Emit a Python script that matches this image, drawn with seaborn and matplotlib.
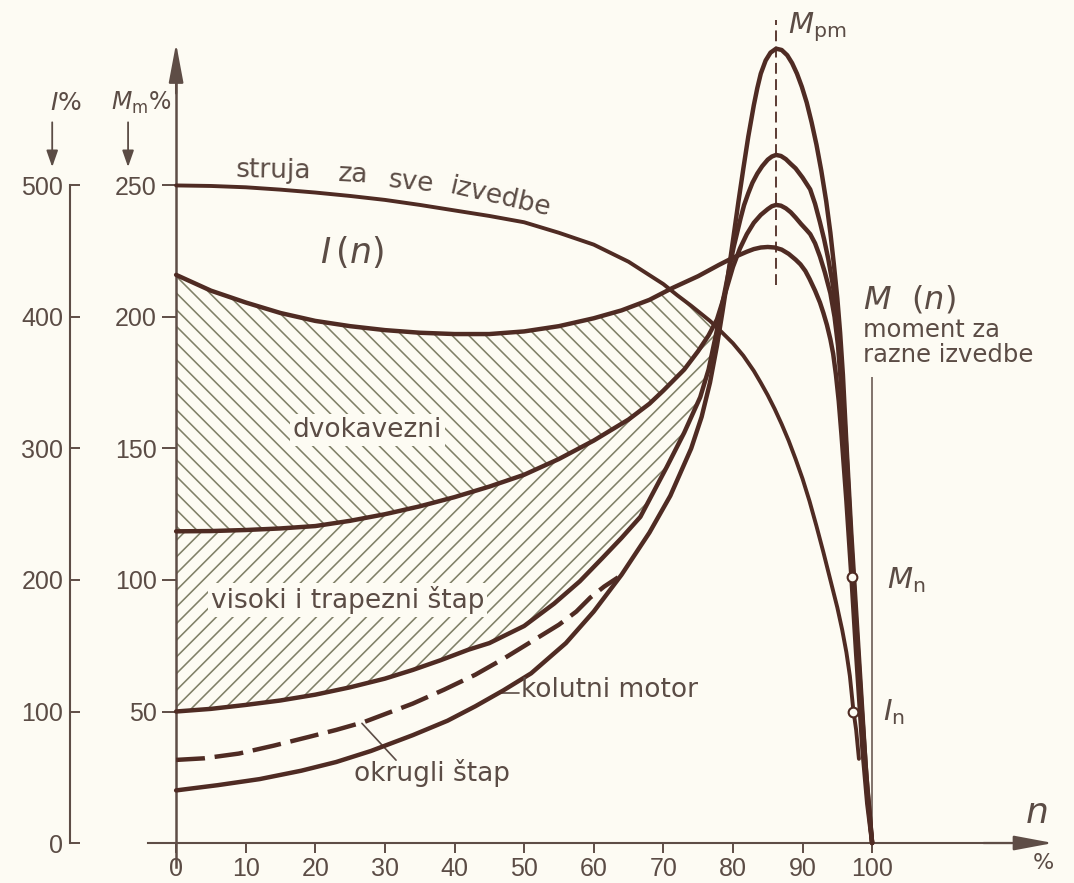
# -*- coding: utf-8 -*-
import numpy as np
import matplotlib.pyplot as plt
import seaborn as sns
from matplotlib import font_manager

# brzina n (% sinhrone), moment Mm (% nazivnog), struja I (%)
# dvokavezni - gornja granica
n_dvo = [0, 5, 10, 15, 20, 25, 30, 35, 40, 45, 50, 55, 60, 64, 68, 71.3, 75, 78, 80, 82,
         83, 84, 85, 86, 87, 88, 89, 89.7, 90.4, 91, 91.8, 92.5, 93, 93.5, 94, 94.4, 94.8, 95.2, 95.6, 96.3,
         97, 97.7, 98.6, 99.3, 100]
M_dvo = [216, 210, 205.5, 201.5, 198.5, 196.5, 195, 194, 193.5, 193.5, 194.5, 196.5, 199.5, 202.5, 206.5, 211, 215.5, 219.8, 222.5, 224.8,
         225.8, 226.4, 226.6, 226.4, 225.6, 224, 221.8, 220, 217.5, 214.5, 210, 205.5, 201.5, 197, 191.5, 186, 178, 168, 155, 130,
         102, 72, 36, 15, 0]
# granica dvokavezni / visoki stap
n_mid = [0, 5, 10, 15, 20, 25, 30, 35, 40, 45, 50, 55, 60, 65, 68, 70, 73, 75, 76.5, 77.7,
         79, 80, 81, 82, 83, 84, 85, 85.6, 86.2, 86.9, 87.6, 88.3, 89, 89.8, 90.5, 91.1, 91.8, 92.5, 93.2, 94,
         94.6, 95.1, 95.5, 96.3, 97, 97.7, 98.5, 99.3, 100]
M_mid = [118.5, 118.6, 119, 119.6, 120.5, 122.5, 125, 128, 131.5, 135.5, 140, 146, 153, 161, 167, 172, 180, 187, 193, 199,
         210, 219, 226, 231.5, 235.8, 238.8, 241, 242.1, 242.6, 242.3, 241.3, 239.8, 237.8, 235.3, 233.3, 231.5, 228, 223, 217, 209,
         200, 189, 175, 145, 110, 80, 45, 18, 0]
# visoki i trapezni stap - donja granica
n_vis = [0, 5, 10, 15, 20, 25, 30, 34, 38, 42, 45, 50, 54.3, 58, 61.3, 64, 66.7, 70.5, 73, 75.3,
         76.5, 77.7, 78.7, 79.6, 80.1, 80.6, 81.1, 81.6, 82.2, 82.8, 83.5, 84.2, 85, 85.6, 86.2, 86.9, 87.6, 88.3, 89, 90,
         91.1, 91.8, 92.5, 93.1, 93.7, 94.3, 94.8, 95.2, 95.6, 96.3, 97, 97.7, 98.5, 99.3, 100]
M_vis = [50, 51, 52.5, 54.2, 56.4, 59.2, 62.5, 65.8, 69.5, 73.5, 76, 82.5, 91, 99.5, 108.5, 116, 124, 143, 156, 169.5,
         180, 195, 208, 220, 226.5, 232, 237.5, 242.5, 247, 251, 254.5, 257.3, 259.8, 261, 261.6, 261.2, 260, 258.2, 256.5, 253,
         248.5, 243, 236, 229.5, 222, 213, 204, 195, 180, 149, 114, 84, 51, 21, 0]
# kolutni motor
n_kol = [0, 6, 12, 18, 23, 28, 34, 39, 43, 47, 51, 56, 60, 64, 68, 71, 74, 75.5, 76.7, 77.7,
         78.5, 79.2, 80, 80.8, 81.5, 82.2, 83, 83.5, 84, 84.7, 85.4, 86.2, 87, 87.8, 88.5, 89.2, 89.9, 90.6, 91.3, 92,
         92.7, 93.4, 94, 94.5, 95, 95.4, 95.8, 96.3, 97, 97.7, 98.4, 99.1, 100]
M_kol = [20, 22, 24.3, 27.5, 30.8, 35, 41, 46.5, 52, 58, 64.5, 76, 88, 102, 118, 132, 150, 162, 175, 189,
         202, 214, 229, 244, 256.5, 268.5, 280.5, 287, 292.5, 297.5, 300.5, 302, 301.5, 299.5, 296.5, 292.5, 287.5, 281.5, 274, 265.5,
         255.5, 244, 232, 220, 207, 194, 178, 152, 118, 88, 58, 28, 0]
# okrugli stap (crtkano)
n_okr = [0, 4, 9, 14, 19, 23, 27, 30, 34, 38.5, 43, 47, 51, 55, 57.5, 59.5, 61.5, 63.5]
M_okr = [31.6, 32.2, 34, 37, 40.3, 43, 46, 49, 53, 58.3, 64, 70, 76.5, 83, 88, 93.3, 97.5, 101]
# struja I(n) u %
n_I = [0, 5, 10, 15, 20, 25, 30, 35, 40, 45, 50, 55, 60, 65, 70, 72, 74, 76.7, 78, 80,
       81.5, 83, 84, 85, 86, 87, 88, 89, 90, 91, 92, 93, 94, 95, 95.7, 96.3, 96.8, 97.3, 97.7, 98.1]
I_pct = [500, 499.6, 498.6, 496.8, 494.6, 492, 489, 485.2, 481, 476.8, 472, 464, 455, 442, 425, 416.5, 408.5, 397, 390.5, 380,
         370.5, 359, 350, 340.5, 330, 318.5, 306, 292, 277, 260, 241, 221, 200, 179, 162, 145, 127, 101, 86, 64]

x_ticks = [0, 10, 20, 30, 40, 50, 60, 70, 80, 90, 100]
m_ticks = [50, 100, 150, 200, 250]
i_ticks = [0, 100, 200, 300, 400, 500]
n_pm = 86.2
n_Mn, M_n = 97.1, 101
n_In, I_n = 97.3, 100

sns.set_theme(style="white")
plt.rcParams['font.family'] = ['DejaVu Sans']
plt.rcParams['mathtext.fontset'] = 'dejavusans'
plt.rcParams['hatch.linewidth'] = 1.15

fonts = {f.name for f in font_manager.fontManager.ttflist}
num_font = 'Liberation Sans Narrow' if 'Liberation Sans Narrow' in fonts else 'Liberation Sans'

BG = '#fdfbf3'
INK = '#4f2b23'
TXT = '#5b4c45'
AXC = '#5e4d46'
HATCH = '#808068'

fig = plt.figure(figsize=(10.74, 8.83), dpi=100, facecolor=BG)
ax = fig.add_axes([0, 0, 1, 1])
ax.set_facecolor('none')
ax2 = ax.twinx()

# srafirana podrucja
grid = np.linspace(0, 79, 500)
top = np.minimum(np.interp(grid, n_dvo, M_dvo), np.interp(grid, n_I, np.array(I_pct) / 2))
mid = np.interp(grid, n_mid, M_mid)
bot = np.interp(grid, n_vis, M_vis)
ax.fill_between(grid, mid, top, where=top >= mid, interpolate=True, facecolor='none',
                edgecolor=HATCH, hatch='\\\\', linewidth=0, zorder=1)
ax.fill_between(grid, bot, mid, where=mid >= bot, interpolate=True, facecolor='none',
                edgecolor=HATCH, hatch='//', linewidth=0, zorder=1)

for n, m in [(n_dvo, M_dvo), (n_mid, M_mid), (n_vis, M_vis), (n_kol, M_kol)]:
    sns.lineplot(x=n, y=m, ax=ax, color=INK, linewidth=3.2, sort=False, estimator=None,
                 solid_joinstyle='round', zorder=3)
sns.lineplot(x=n_okr, y=M_okr, ax=ax, color=INK, linewidth=3.2, linestyle=(0, (6.5, 2.2)),
             sort=False, estimator=None, zorder=3)
sns.lineplot(x=n_I, y=I_pct, ax=ax2, color=INK, linewidth=2.8, sort=False, estimator=None,
             solid_joinstyle='round', zorder=3)

ax.set_xlim(-25.3, 129.0)
ax.set_ylim(-15.2, 320.5)
ax2.set_ylim(-30.4, 641.0)

# osi
for s in ['top', 'right']:
    ax.spines[s].set_visible(False)
ax.spines['left'].set_position(('data', 0))
ax.spines['bottom'].set_position(('data', 0))
ax.spines['left'].set_bounds(-9, 296)
ax.spines['bottom'].set_bounds(-4, 120)
for s in ['top', 'right', 'bottom']:
    ax2.spines[s].set_visible(False)
ax2.spines['left'].set_visible(True)
ax2.spines['left'].set_position(('data', -15.2))
ax2.spines['left'].set_bounds(0, 500)
for sp in [ax.spines['left'], ax.spines['bottom'], ax2.spines['left']]:
    sp.set_color(AXC)
    sp.set_linewidth(1.5)
ax.spines['left'].set_linewidth(1.8)

ax.set_xticks(x_ticks)
ax.set_xticklabels([str(t) for t in x_ticks])
ax.set_yticks(m_ticks)
ax.set_yticklabels([str(t) for t in m_ticks])
ax.tick_params(axis='x', bottom=True, direction='out', length=7, width=1.4, pad=3,
               color=AXC, labelcolor=TXT, labelsize=18, labelfontfamily=num_font)
ax.tick_params(axis='y', left=True, direction='out', length=10, width=1.4, pad=4,
               color=AXC, labelcolor=TXT, labelsize=18, labelfontfamily=num_font)
ax2.yaxis.tick_left()
ax2.set_yticks(i_ticks)
ax2.set_yticklabels([str(t) for t in i_ticks])
ax2.tick_params(axis='y', left=True, right=False, direction='in', length=7, width=1.4, pad=5,
                color=AXC, labelcolor=TXT, labelsize=18, labelfontfamily=num_font)
ax.set_xlabel('')
ax.set_ylabel('')
ax2.set_ylabel('')

arrow = dict(arrowstyle='-|>,head_length=2.4,head_width=0.45', mutation_scale=10,
             color=AXC, lw=1.6, shrinkA=0, shrinkB=0)
ax.annotate('', xy=(0, 304), xytext=(0, 285), arrowprops=arrow, annotation_clip=False)
ax.annotate('', xy=(126, 0), xytext=(116, 0), arrowprops=arrow, annotation_clip=False)
small = dict(arrowstyle='-|>,head_length=1.0,head_width=0.35', mutation_scale=10,
             color=TXT, lw=1.3, shrinkA=0, shrinkB=0)
for xa in (-17.8, -6.9):
    ax.annotate('', xy=(xa, 257), xytext=(xa, 274), arrowprops=small, annotation_clip=False)

ax.vlines(n_pm, 212, 313, colors=INK, linewidth=1.3, linestyles=(0, (6, 3)), zorder=2)
ax.vlines(100, 0, 177, colors=AXC, linewidth=1.1, zorder=2)

ax.plot(n_Mn, M_n, 'o', ms=7, mfc=BG, mec=INK, mew=1.5, zorder=5)
ax2.plot(n_In, I_n, 'o', ms=7, mfc=BG, mec=INK, mew=1.5, zorder=5)

tk = dict(color=TXT, fontsize=19)
ax.text(-15.9, 281.5, r'$I$%', ha='center', va='center', color=TXT, fontsize=18)
ax.text(-5.0, 281.5, r'$M_{\rm m}$%', ha='center', va='center', color=TXT, fontsize=17)
ax.text(14.0, 255.5, 'struja', ha='center', va='center', rotation=-1, **tk)
ax.text(25.5, 254, 'za', ha='center', va='center', rotation=-3, **tk)
ax.text(33.8, 251, 'sve', ha='center', va='center', rotation=-6, **tk)
ax.text(46.5, 245.5, 'izvedbe', ha='center', va='center', rotation=-13, **tk)
ax.text(25.3, 224.7, r'$I\,(n)$', ha='center', va='center', color=TXT, fontsize=25)
box = dict(facecolor=BG, edgecolor='none', pad=2)
ax.text(27.5, 157, 'dvokavezni', ha='center', va='center', bbox=box, zorder=4, **tk)
ax.text(24.6, 92.4, 'visoki i trapezni štap', ha='center', va='center', bbox=box, zorder=4, **tk)
ax.text(49.6, 58.2, 'kolutni motor', ha='left', va='center', **tk)
ax.plot([46.2, 49.2], [57.2, 57.2], color=TXT, lw=1.2)
ax.text(25.6, 26.6, 'okrugli štap', ha='left', va='center', **tk)
ax.plot([26.7, 31.6], [45.5, 31.5], color=TXT, lw=1.2)
ax.text(87.9, 310, r'$M_{\rm pm}$', ha='left', va='center', color=TXT, fontsize=21)
ax.text(98.7, 206.5, r'$M\ \ (n)$', ha='left', va='center', color=TXT, fontsize=23)
ax.text(98.7, 195, 'moment za', ha='left', va='center', color=TXT, fontsize=17.5)
ax.text(98.7, 185.5, 'razne izvedbe', ha='left', va='center', color=TXT, fontsize=17.5)
ax.text(102.2, 100, r'$M_{\rm n}$', ha='left', va='center', color=TXT, fontsize=21)
ax.text(101.6, 49.8, r'$I_{\rm n}$', ha='left', va='center', color=TXT, fontsize=21)
ax.text(122, 11.4, r'$n$', ha='left', va='center', color=TXT, fontsize=26)
ax.text(123.1, -7.6, '%', ha='left', va='center', color=TXT, fontsize=16)

fig.savefig('out.png', dpi=100, facecolor=BG)
